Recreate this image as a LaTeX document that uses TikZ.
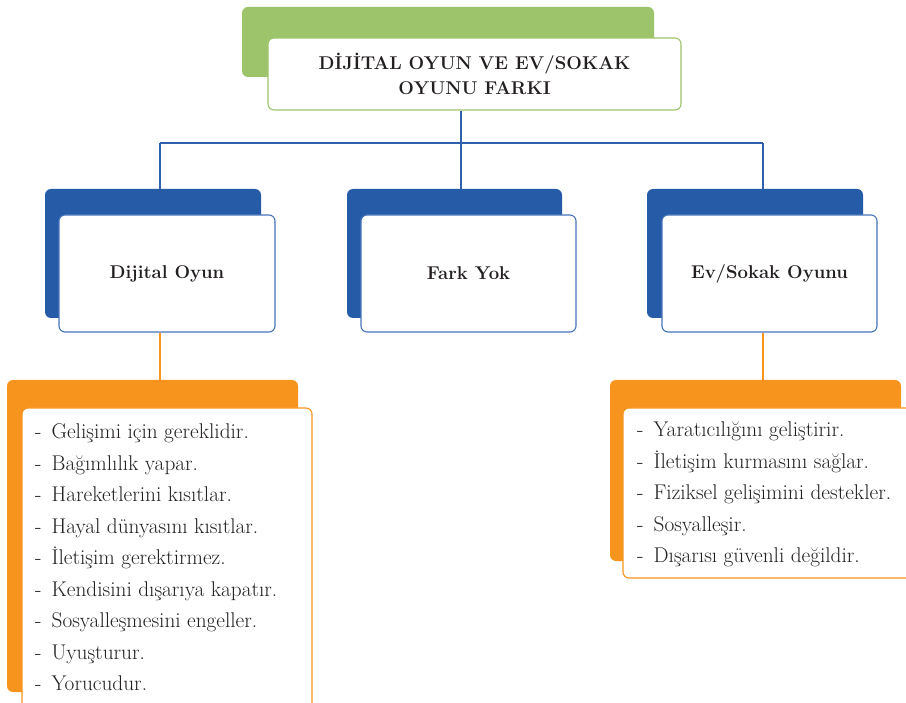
\documentclass[tikz,border=0pt]{standalone}
\usepackage{fontspec}
\definecolor{leafgreen}{RGB}{157,196,106}
\definecolor{deepblue}{RGB}{37,91,167}
\definecolor{edgeblue}{RGB}{70,116,186}
\definecolor{linkblue}{RGB}{46,96,172}
\definecolor{sunorange}{RGB}{247,148,30}
\definecolor{inkgray}{RGB}{35,31,32}
\begin{document}
\begin{tikzpicture}[x=1pt,y=-1pt,
  backbox/.style={rectangle, rounded corners=6pt, inner sep=0pt, draw=none},
  frontbox/.style={rectangle, rounded corners=6pt, inner sep=0pt, fill=white, line width=1.1pt},
  headtext/.style={font=\bfseries\fontsize{18.5}{25}\selectfont, align=center, text=inkgray},
  listtext/.style={anchor=base west, inner sep=0pt, font=\fontsize{21.3}{31.5}\selectfont\addfontfeature{FakeBold=0.35}, text=inkgray},
  bluelink/.style={draw=linkblue, line width=1.8pt},
  orangelink/.style={draw=sunorange, line width=1.6pt}]
\useasboundingbox (0,0) rectangle (906,703);
\clip (0,0) rectangle (906,703);

% title block
\node[backbox, fill=leafgreen, minimum width=412pt, minimum height=70pt] (titleback) at (448,42) {};
\node[frontbox, draw=leafgreen, minimum width=413pt, minimum height=72pt, headtext] (title) at (474.5,74)
  {DİJİTAL OYUN VE EV/SOKAK\\OYUNU FARKI};

% three category blocks
\node[backbox, fill=deepblue, minimum width=216pt, minimum height=129pt] (digback) at (153,253.5) {};
\node[frontbox, draw=edgeblue, minimum width=216pt, minimum height=117pt, headtext] (dig) at (167,273.5) {Dijital Oyun};

\node[backbox, fill=deepblue, minimum width=215pt, minimum height=129pt] (sameback) at (454.5,253.5) {};
\node[frontbox, draw=edgeblue, minimum width=215pt, minimum height=117pt, headtext] (same) at (468.5,273.5) {Fark Yok};

\node[backbox, fill=deepblue, minimum width=216pt, minimum height=129pt] (streetback) at (755,253.5) {};
\node[frontbox, draw=edgeblue, minimum width=215pt, minimum height=117pt, headtext] (street) at (769.5,273.5) {Ev/Sokak Oyunu};

% list blocks
\node[backbox, fill=sunorange, minimum width=291pt, minimum height=312pt] (diglistback) at (152.5,536) {};
\node[frontbox, draw=sunorange, minimum width=290pt, minimum height=312pt] (diglist) at (167,564) {};

\node[backbox, fill=sunorange, minimum width=291pt, minimum height=181pt] (streetlistback) at (755.5,470.5) {};
\node[frontbox, draw=sunorange, minimum width=290pt, minimum height=170pt] (streetlist) at (768,493) {};

% connectors
\coordinate (hub) at (461,143);
\coordinate (hubL) at (160,143);
\coordinate (hubR) at (763,143);
\draw[bluelink] (title.south -| hub) -- (hub);
\draw[bluelink] (hubL) -- (hubR);
\draw[bluelink] (hubL) -- (hubL |- digback.north);
\draw[bluelink] (hub) -- (hub |- sameback.north);
\draw[bluelink] (hubR) -- (hubR |- streetback.north);
\draw[orangelink] (dig.south -| hubL) -- (hubL |- diglistback.north);
\draw[orangelink] (street.south -| hubR) -- (hubR |- streetlistback.north);

% list texts
\node[listtext] (digitems) at (35,439) {%
  \begin{tabular}[t]{@{}l@{\hspace{10pt}}l@{}}
  - & Gelişimi için gereklidir.\\
  - & Bağımlılık yapar.\\
  - & Hareketlerini kısıtlar.\\
  - & Hayal dünyasını kısıtlar.\\
  - & İletişim gerektirmez.\\
  - & Kendisini dışarıya kapatır.\\
  - & Sosyalleşmesini engeller.\\
  - & Uyuşturur.\\
  - & Yorucudur.
  \end{tabular}};
\node[listtext] (streetitems) at (637,437) {%
  \begin{tabular}[t]{@{}l@{\hspace{10pt}}l@{}}
  - & Yaratıcılığını geliştirir.\\
  - & İletişim kurmasını sağlar.\\
  - & Fiziksel gelişimini destekler.\\
  - & Sosyalleşir.\\
  - & Dışarısı güvenli değildir.
  \end{tabular}};
\end{tikzpicture}
\end{document}
